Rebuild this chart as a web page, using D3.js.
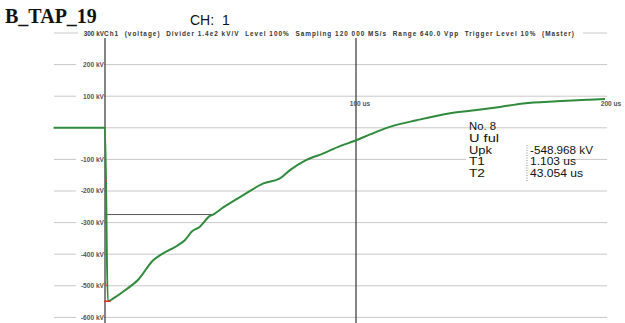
<!DOCTYPE html>
<html>
<head>
<meta charset="utf-8">
<script src="https://cdn.jsdelivr.net/npm/d3@7"></script>
<style>
  html, body { margin: 0; padding: 0; background: #fff; }
  svg { display: block; }
</style>
</head>
<body>
<svg id="chart" width="625" height="323"></svg>
<script>
// Lightning impulse record, channel 1
const timeUs = [-20.5, 0, 1.103, 3.3, 8.0, 13.3, 19.2, 22.6, 28.6, 31.9, 34.5, 37.8, 41.8, 43.054,
  47.1, 55.1, 63.1, 69.7, 73.7, 79.7, 87.0, 93.6, 99.6, 105.6, 113.5, 124.2, 137.5, 148.1,
  157.4, 166.7, 180.0, 193.2, 199.2];
const voltageKv = [0, 0, -548.968, -540, -514, -480, -419, -400, -374, -355, -329, -313, -279, -274.5,
  -252, -213, -176, -160, -134, -104, -81, -58, -41, -21, 3, 24, 46, 56,
  66, 77, 84, 89, 91];

const gridKv = [300, 200, 100, 0, -100, -200, -300, -400, -500, -600];
const labelKv = [200, 100, -100, -200, -300, -400, -500, -600];
const timeTicks = [100, 200];

const title = "B_TAP_19";
const channel = "CH:  1";
const header = "Ch1  (voltage)  Divider 1.4e2 kV/V  Level 100%  Sampling 120 000 MS/s  Range 640.0 Vpp  Trigger Level 10%  (Master)";
const resultNames = ["No. 8", "U ful", "Upk", "T1", "T2"];
const resultValues = ["", "", "-548.968 kV", "1.103 us", "43.054 us"];
const peakKv = -548.968;
const t2Us = 43.054;

const svg = d3.select("#chart");
const x = d3.scaleLinear().domain([0, 200]).range([105, 607]);
const y = d3.scaleLinear().domain([300, -600]).range([33, 317.4]);
const xLeft = 54;
const sans = "Liberation Sans, Arial, sans-serif";

// Title and channel
svg.append("text").attr("x", 5).attr("y", 23)
  .attr("font-family", "Liberation Serif, serif").attr("font-weight", "bold")
  .attr("font-size", 20).attr("fill", "#111").text(title);
svg.append("text").attr("x", 190).attr("y", 25)
  .attr("font-family", sans).attr("font-size", 14).attr("fill", "#111")
  .style("white-space", "pre").text(channel);

// Horizontal grid
svg.append("g").selectAll("line").data(gridKv).join("line")
  .attr("x1", xLeft).attr("x2", x(200))
  .attr("y1", d => y(d)).attr("y2", d => y(d))
  .attr("stroke", "#c8c8c8").attr("stroke-width", 1);

// Vertical lines: time zero axis and 100 us
svg.append("line").attr("x1", x(0)).attr("x2", x(0)).attr("y1", 38).attr("y2", 323)
  .attr("stroke", "#333").attr("stroke-width", 1.2);
svg.append("line").attr("x1", x(100)).attr("x2", x(100)).attr("y1", 33).attr("y2", 323)
  .attr("stroke", "#333").attr("stroke-width", 1.2);

// Y labels with white backing
const yl = svg.append("g");
labelKv.forEach(v => {
  yl.append("rect").attr("x", x(0) - 29).attr("y", y(v) - 4).attr("width", 28).attr("height", 8).attr("fill", "#fff");
  yl.append("text").attr("x", x(0) - 1).attr("y", y(v) + 2.3)
    .attr("text-anchor", "end").attr("font-family", sans)
    .attr("font-size", 6.6).attr("font-weight", "bold").attr("fill", "#555").text(v + " kV");
});

// Time labels
svg.append("g").selectAll("text").data(timeTicks).join("text")
  .attr("x", d => x(d) + 4).attr("y", 106)
  .attr("text-anchor", "middle").attr("font-family", sans)
  .attr("font-size", 6.6).attr("font-weight", "bold").attr("fill", "#555").text(d => d + " us");

// Header line across the top gridline
svg.append("rect").attr("x", 78).attr("y", 30).attr("width", 505).attr("height", 8).attr("fill", "#fff");
svg.append("text").attr("x", x(0) - 1).attr("y", y(300) + 3)
  .attr("text-anchor", "end").attr("font-family", sans)
  .attr("font-size", 6.4).attr("font-weight", "bold").attr("fill", "#333").text("300 kV");
svg.append("text").attr("x", 104).attr("y", y(300) + 3)
  .attr("font-family", sans).attr("font-size", 6.4)
  .attr("font-weight", "bold").attr("fill", "#333")
  .attr("textLength", 470).attr("lengthAdjust", "spacing")
  .style("white-space", "pre").text(header);

// Half-value level line up to T2
svg.append("line").attr("x1", x(0)).attr("x2", x(t2Us))
  .attr("y1", y(peakKv / 2)).attr("y2", y(peakKv / 2))
  .attr("stroke", "#555").attr("stroke-width", 1);

// Trace
const pts = timeUs.map((t, i) => [t, voltageKv[i]]);
svg.append("path").datum(pts)
  .attr("d", d3.line().x(d => x(d[0])).y(d => y(d[1])).curve(d3.curveMonotoneX))
  .attr("fill", "none").attr("stroke", "#2f8a3c").attr("stroke-width", 2)
  .attr("stroke-linejoin", "round");

// Peak and front markers
svg.append("line").attr("x1", x(0) - 1).attr("x2", x(2.2))
  .attr("y1", y(peakKv)).attr("y2", y(peakKv))
  .attr("stroke", "#e03020").attr("stroke-width", 1.5);
[0.3, 0.9].forEach(f => {
  svg.append("line").attr("x1", x(0)).attr("x2", x(0.6))
    .attr("y1", y(peakKv * f) - 2).attr("y2", y(peakKv * f) + 2)
    .attr("stroke", "#d04030").attr("stroke-width", 1);
});

// Results block
const rx = 469, vx = 530, rowY = [130, 141.8, 153.6, 165.4, 177.2];
const nameWidths = [27, 30, 23, 16, 16];
const valueWidths = [0, 0, 63, 46, 53];
svg.append("rect").attr("x", 466).attr("y", 134).attr("width", 96).attr("height", 46).attr("fill", "#fff");
svg.append("line").attr("x1", vx - 3).attr("x2", vx - 3).attr("y1", 145).attr("y2", 181)
  .attr("stroke", "#888").attr("stroke-dasharray", "1,1.5");
resultNames.forEach((name, i) => {
  svg.append("text").attr("x", rx).attr("y", rowY[i])
    .attr("font-family", sans).attr("font-size", 10.6)
    .attr("textLength", nameWidths[i]).attr("lengthAdjust", "spacingAndGlyphs")
    .attr("fill", "#111").text(name);
  if (resultValues[i]) svg.append("text").attr("x", vx).attr("y", rowY[i])
    .attr("font-family", sans).attr("font-size", 10.6)
    .attr("textLength", valueWidths[i]).attr("lengthAdjust", "spacingAndGlyphs")
    .attr("fill", "#111").text(resultValues[i]);
});
</script>
</body>
</html>
